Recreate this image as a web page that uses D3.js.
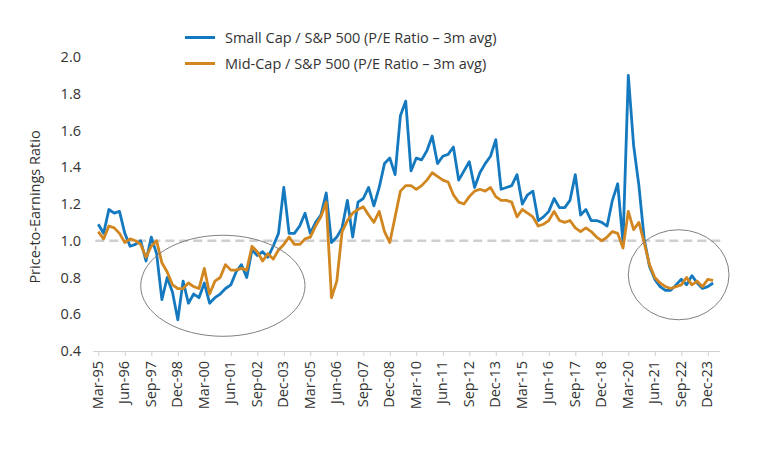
<!DOCTYPE html>
<html>
<head>
<meta charset="utf-8">
<script src="https://cdn.jsdelivr.net/npm/d3@7"></script>
<style>
  html, body { margin: 0; padding: 0; background: #fff; }
  svg { display: block; font-family: "Open Sans", "Noto Sans", sans-serif; }
</style>
</head>
<body>
<svg id="chart" width="768" height="460"></svg>
<script>
// ---------- DATA ----------
const startYear = 1995, startQuarter = 0, nPoints = 117; // Mar-95 .. Mar-24, quarterly
const monthNames = ["Mar", "Jun", "Sep", "Dec"];
const categories = [];
for (let i = 0; i < nPoints; i++) {
  const q = (startQuarter + i) % 4;
  const y = startYear + Math.floor((startQuarter + i) / 4);
  categories.push(monthNames[q] + "-" + String(y % 100).padStart(2, "0"));
}

const smallCap = [
  1.09, 1.04, 1.17, 1.15, 1.16, 1.04, 0.97, 0.98, 1.00, 0.89,
  1.02, 0.93, 0.68, 0.80, 0.72, 0.57, 0.78, 0.66, 0.71, 0.69,
  0.77, 0.66, 0.69, 0.71, 0.74, 0.76, 0.83, 0.87, 0.80, 0.95,
  0.92, 0.94, 0.91, 0.97, 1.04, 1.29, 1.04, 1.04, 1.08, 1.15,
  1.04, 1.10, 1.14, 1.26, 0.99, 1.02, 1.07, 1.22, 1.02, 1.21,
  1.23, 1.29, 1.19, 1.29, 1.42, 1.45, 1.36, 1.68, 1.76, 1.38,
  1.45, 1.44, 1.49, 1.57, 1.42, 1.46, 1.47, 1.51, 1.33, 1.38,
  1.43, 1.29, 1.37, 1.42, 1.46, 1.55, 1.28, 1.29, 1.30, 1.36,
  1.20, 1.25, 1.27, 1.11, 1.13, 1.16, 1.23, 1.18, 1.18, 1.22,
  1.36, 1.14, 1.17, 1.11, 1.11, 1.10, 1.08, 1.22, 1.31, 0.99,
  1.90, 1.52, 1.30, 1.01, 0.86, 0.79, 0.75, 0.73, 0.73, 0.76,
  0.79, 0.76, 0.81, 0.77, 0.74, 0.75, 0.77
];

const midCap = [
  1.05, 1.01, 1.08, 1.07, 1.04, 0.99, 1.01, 1.00, 0.98, 0.91,
  0.97, 1.00, 0.88, 0.83, 0.76, 0.74, 0.74, 0.77, 0.75, 0.74,
  0.85, 0.71, 0.78, 0.80, 0.87, 0.84, 0.84, 0.85, 0.84, 0.97,
  0.94, 0.89, 0.93, 0.90, 0.95, 0.98, 1.02, 0.98, 0.98, 1.01,
  1.02, 1.08, 1.13, 1.21, 0.69, 0.78, 1.05, 1.11, 1.15, 1.17,
  1.185, 1.14, 1.10, 1.16, 1.05, 0.99, 1.13, 1.27, 1.30, 1.30,
  1.28, 1.30, 1.33, 1.37, 1.35, 1.33, 1.32, 1.25, 1.21, 1.20,
  1.24, 1.27, 1.28, 1.27, 1.29, 1.24, 1.22, 1.22, 1.21, 1.13,
  1.17, 1.15, 1.13, 1.08, 1.09, 1.11, 1.16, 1.11, 1.10, 1.11,
  1.07, 1.05, 1.07, 1.05, 1.02, 1.00, 1.02, 1.05, 1.04, 0.96,
  1.16, 1.06, 1.10, 0.99, 0.87, 0.80, 0.77, 0.75, 0.74, 0.75,
  0.76, 0.80, 0.76, 0.78, 0.75, 0.79, 0.785
];

const seriesNames = [
  "Small Cap / S&P 500 (P/E Ratio \u2013 3m avg)",
  "Mid-Cap / S&P 500 (P/E Ratio \u2013 3m avg)"
];
const xTickLabels = ["Mar-95","Jun-96","Sep-97","Dec-98","Mar-00","Jun-01","Sep-02","Dec-03",
  "Mar-05","Jun-06","Sep-07","Dec-08","Mar-10","Jun-11","Sep-12","Dec-13","Mar-15","Jun-16",
  "Sep-17","Dec-18","Mar-20","Jun-21","Sep-22","Dec-23"];
const yTicks = [0.4, 0.6, 0.8, 1.0, 1.2, 1.4, 1.6, 1.8, 2.0];
const referenceLevel = 1.0;
// highlighted periods (circled): [first category, last category, low value, high value]
const highlights = [
  ["Mar-97", "Dec-04", 0.48, 1.03],
  ["Mar-20", "Dec-24", 0.57, 1.06]
];

// ---------- LAYOUT ----------
const colors = ["#1479bf", "#d1861f"];
const FS = 14.5;
const svg = d3.select("#chart");
const x = d3.scalePoint().domain(categories).range([98.3, 98.3 + 116 * 5.3]);
const y = d3.scaleLinear().domain([0.4, 2.0]).range([351, 57]);

// y tick labels (no axis line)
const yAxis = d3.axisLeft(y).tickValues(yTicks).tickFormat(d3.format(".1f")).tickSize(0).tickPadding(0);
const gy = svg.append("g").attr("transform", "translate(81,0)").call(yAxis);
gy.select(".domain").remove();
gy.selectAll("text").attr("font-size", FS).attr("fill", "#333").attr("font-family", "Open Sans, sans-serif");

// y title
svg.append("text")
  .attr("transform", "translate(35,207) rotate(-90)")
  .attr("text-anchor", "middle")
  .attr("dy", "0.35em")
  .attr("font-size", FS)
  .attr("fill", "#333")
  .text("Price-to-Earnings Ratio");

// x axis
const xAxis = d3.axisBottom(x).tickValues(xTickLabels).tickSize(5).tickPadding(4);
const gx = svg.append("g").attr("transform", "translate(0,351)").call(xAxis);
gx.select(".domain").remove();
gx.selectAll(".tick line").attr("stroke", "#d0d0d0");
gx.selectAll("text")
  .attr("font-size", FS)
  .attr("fill", "#333")
  .attr("font-family", "Open Sans, sans-serif")
  .attr("transform", "rotate(-90)")
  .attr("text-anchor", "end")
  .attr("dx", "-10")
  .attr("dy", "0")
  .attr("y", 0)
  .attr("x", 0)
  .style("dominant-baseline", "middle");
svg.append("line")
  .attr("x1", x(categories[0]) - 5).attr("x2", x(categories[nPoints - 1]) + 7)
  .attr("y1", 351.5).attr("y2", 351.5)
  .attr("stroke", "#d0d0d0").attr("stroke-width", 1);

// reference line at 1.0
svg.append("line")
  .attr("x1", x(categories[0]) - 3).attr("x2", x(categories[nPoints - 1]) + 8)
  .attr("y1", y(referenceLevel)).attr("y2", y(referenceLevel))
  .attr("stroke", "#cfcfcf").attr("stroke-width", 2.5)
  .attr("stroke-dasharray", "9,5");

// lines
const line = d3.line().x((d, i) => x(categories[i])).y(d => y(d));
[smallCap, midCap].forEach((s, k) => {
  svg.append("path")
    .datum(s)
    .attr("fill", "none")
    .attr("stroke", colors[k])
    .attr("stroke-width", 2.8)
    .attr("stroke-linejoin", "round")
    .attr("d", line);
});

// highlight ellipses
function catX(label) {
  const m = monthNames.indexOf(label.slice(0, 3));
  const yy = +label.slice(4);
  const yr = yy > 50 ? 1900 + yy : 2000 + yy;
  const idx = (yr - startYear) * 4 + m - startQuarter;
  return x(categories[0]) + idx * x.step();
}
highlights.forEach(h => {
  const x1 = catX(h[0]), x2 = catX(h[1]);
  svg.append("ellipse")
    .attr("cx", (x1 + x2) / 2).attr("cy", (y(h[2]) + y(h[3])) / 2)
    .attr("rx", (x2 - x1) / 2).attr("ry", (y(h[2]) - y(h[3])) / 2)
    .attr("fill", "none").attr("stroke", "#808080").attr("stroke-width", 1);
});

// legend
seriesNames.forEach((name, k) => {
  const ly = 37.5 + k * 26;
  svg.append("line").attr("x1", 185).attr("x2", 215).attr("y1", ly).attr("y2", ly)
    .attr("stroke", colors[k]).attr("stroke-width", 3);
  svg.append("text").attr("x", 225).attr("y", ly).attr("dy", "0.35em")
    .attr("font-size", FS).attr("fill", "#333").text(name);
});
</script>
</body>
</html>
